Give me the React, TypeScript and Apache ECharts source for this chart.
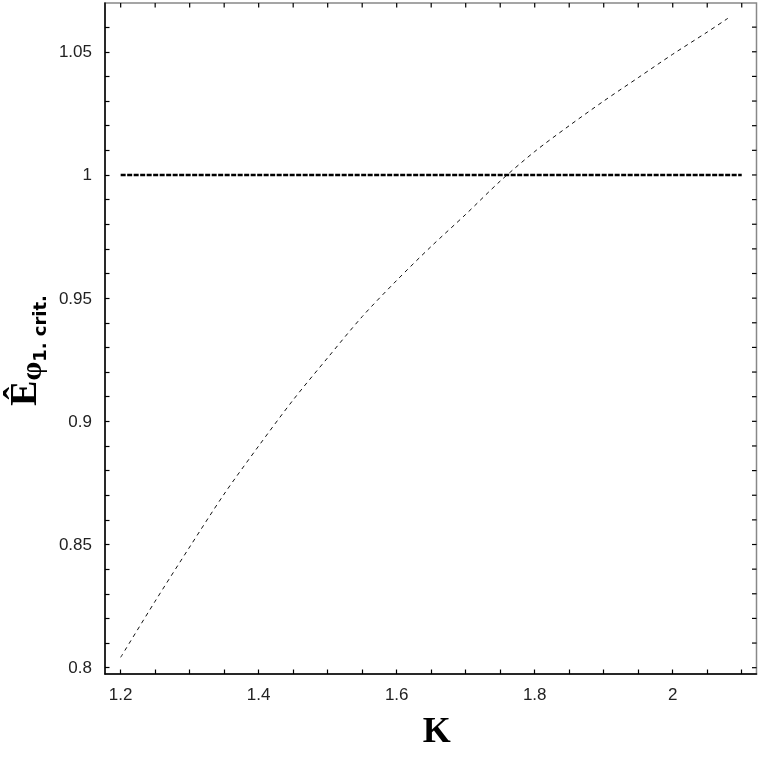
import React, { useEffect, useRef } from "react";
import * as echarts from "echarts";

// Curve: estimate of E-hat phi_1.crit. against K
const kValues = [1.2, 1.25, 1.3, 1.35, 1.4, 1.45, 1.5, 1.55, 1.6, 1.65, 1.7, 1.75, 1.8, 1.85, 1.9, 1.95, 2.0, 2.05, 2.08];
const eValues = [0.8042, 0.827, 0.849, 0.8705, 0.89, 0.9087, 0.9258, 0.9425, 0.9572, 0.971, 0.984, 0.9975, 1.0095, 1.02, 1.03, 1.0395, 1.049, 1.058, 1.0636];

// Reference level
const thresholdK = [1.2, 2.1];
const thresholdE = [1, 1];

// Ticks
const xMajorTicks = [1.2, 1.4, 1.6, 1.8, 2];
const xMinorTicks = [1.2, 1.25, 1.3, 1.35, 1.4, 1.45, 1.5, 1.55, 1.6, 1.65, 1.7, 1.75, 1.8, 1.85, 1.9, 1.95, 2, 2.05, 2.1];
const yMajorTicks = [0.8, 0.85, 0.9, 0.95, 1, 1.05];
const yMinorTicks = [0.8, 0.81, 0.82, 0.83, 0.84, 0.85, 0.86, 0.87, 0.88, 0.89, 0.9, 0.91, 0.92, 0.93, 0.94, 0.95, 0.96, 0.97, 0.98, 0.99, 1, 1.01, 1.02, 1.03, 1.04, 1.05, 1.06];

const X_MIN = 1.1773;
const X_MAX = 2.1214;
const Y_MIN = 0.79744;
const Y_MAX = 1.0698;

const labelFont = { fontFamily: '"Liberation Sans", Arial, sans-serif', fontSize: 17, color: "#222" };
const serif = '"Liberation Serif", "Times New Roman", serif';

export default function App() {
  const ref = useRef<HTMLDivElement>(null);

  useEffect(() => {
    if (!ref.current) return;
    const chart = echarts.init(ref.current, null, { renderer: "svg" });
    chart.setOption({
      animation: false,
      grid: {
        left: 105,
        top: 3,
        right: 6.5,
        bottom: 89,
        outerBoundsMode: "none",
        containLabel: false,
        show: true,
        borderColor: "#888",
        borderWidth: 1.5,
      },
      xAxis: {
        type: "value",
        min: X_MIN,
        max: X_MAX,
        name: "K",
        nameLocation: "middle",
        nameGap: 38,
        nameTextStyle: { fontFamily: serif, fontWeight: "bold", fontSize: 36, color: "#000", padding: [0, 0, 0, 12] },
        axisLine: { show: true, lineStyle: { color: "#000", width: 1.5 } },
        axisTick: { show: true, inside: true, length: 4.5, customValues: xMinorTicks, lineStyle: { color: "#000", width: 1.2 } },
        axisLabel: { customValues: xMajorTicks, margin: 12, ...labelFont },
        splitLine: { show: false },
      },
      yAxis: {
        type: "value",
        min: Y_MIN,
        max: Y_MAX,
        name: "{e|Ê}{phi|φ}{sub|1. crit.}",
        nameLocation: "middle",
        nameRotate: 90,
        nameGap: 53,
        nameTextStyle: {
          color: "#000",
          padding: [0, 24, 0, 0],
          rich: {
            e: { fontFamily: serif, fontWeight: "bold", fontSize: 38, color: "#000", verticalAlign: "bottom", padding: [0, 0, 6, 0] },
            phi: { fontFamily: serif, fontWeight: "bold", fontSize: 30, color: "#000", verticalAlign: "bottom", padding: [0, 0, 3, 0] },
            sub: { fontFamily: '"DejaVu Sans", sans-serif', fontWeight: "bold", fontSize: 18, color: "#000", verticalAlign: "bottom" },
          },
        },
        axisLine: { show: true, lineStyle: { color: "#000", width: 1.5 } },
        axisTick: { show: true, inside: true, length: 4.5, customValues: yMinorTicks, lineStyle: { color: "#000", width: 1.2 } },
        axisLabel: { customValues: yMajorTicks, margin: 13, ...labelFont },
        splitLine: { show: false },
      },
      series: [
        {
          type: "line",
          data: thresholdK.map((k, i) => [k, thresholdE[i]]),
          showSymbol: false,
          lineStyle: { color: "#000", width: 2.5, type: [5, 1.5] },
        },
        {
          type: "line",
          data: kValues.map((k, i) => [k, eValues[i]]),
          showSymbol: false,
          smooth: 0.3,
          lineStyle: { color: "#111", width: 1, type: [4, 4] },
        },
        {
          // top-edge ticks
          type: "custom",
          clip: false,
          data: xMinorTicks.map((v) => [v, 0.9]),
          renderItem: (params: any, api: any) => {
            const p = api.coord([api.value(0), Y_MAX]);
            return { type: "line", shape: { x1: p[0], y1: p[1], x2: p[0], y2: p[1] + 4.5 }, style: { stroke: "#000", lineWidth: 1.2 } };
          },
        },
        {
          // right-edge ticks
          type: "custom",
          clip: false,
          data: yMinorTicks.map((v) => [1.5, v]),
          renderItem: (params: any, api: any) => {
            const p = api.coord([X_MAX, api.value(1)]);
            return { type: "line", shape: { x1: p[0], y1: p[1], x2: p[0] - 4.5, y2: p[1] }, style: { stroke: "#000", lineWidth: 1.2 } };
          },
        },
      ],
    });
    return () => chart.dispose();
  }, []);

  return <div ref={ref} style={{ position: "fixed", left: 0, top: 0, width: 763, height: 763 }} />;
}
